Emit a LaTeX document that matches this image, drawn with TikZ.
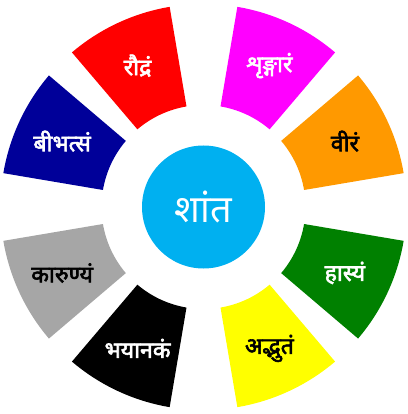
\documentclass[tikz,border=0pt]{standalone}
\usepackage{fontspec}
\newfontfamily\devfont[Script=Devanagari]{Noto Sans}
\newfontfamily\devbold[Script=Devanagari,FakeBold=2.5]{Noto Sans}
\definecolor{cRed}{RGB}{255,0,0}
\definecolor{cMag}{RGB}{255,0,255}
\definecolor{cOra}{RGB}{255,153,0}
\definecolor{cGre}{RGB}{0,128,0}
\definecolor{cYel}{RGB}{255,255,0}
\definecolor{cBlk}{RGB}{0,0,0}
\definecolor{cGry}{RGB}{166,166,166}
\definecolor{cBlu}{RGB}{0,0,153}
\definecolor{cCen}{RGB}{0,176,240}
\begin{document}
\begin{tikzpicture}[x=1pt,y=1pt,
  lbl/.style={font=\devbold\fontsize{23}{25}\selectfont, inner sep=0pt},
  centre/.style={circle, fill=cCen, minimum size=123pt, inner sep=0pt,
    text=white, font=\devfont\fontsize{38}{42}\selectfont}]
\useasboundingbox (-203.5,-207) rectangle (203.5,207);
\def\Rin{102}
\def\Rout{203}
\def\half{15.4}
\foreach \a/\col/\tcol/\txt/\nm in {
  115/cRed/white/रौद्रं/raudra,
  65/cMag/white/शृङ्गारं/shringara,
  25/cOra/black/वीरं/vira,
  -25/cGre/white/हास्यं/hasya,
  -65/cYel/black/अद्भुतं/adbhuta,
  -115/cBlk/white/भयानकं/bhayanaka,
  -155/cGry/black/कारुण्यं/karunya,
  155/cBlu/white/बीभत्सं/bibhatsa}{
  \pgfmathsetmacro\aone{\a-\half}
  \pgfmathsetmacro\atwo{\a+\half}
  \fill[\col] (\aone:\Rin) arc[start angle=\aone, end angle=\atwo, radius=\Rin]
     -- (\atwo:\Rout) arc[start angle=\atwo, end angle=\aone, radius=\Rout] -- cycle;
  \node[lbl, text=\tcol] (\nm) at (\a:156) {\txt};
}
\node[centre] (shanta) at (0,0) {शांत};
\end{tikzpicture}
\end{document}
